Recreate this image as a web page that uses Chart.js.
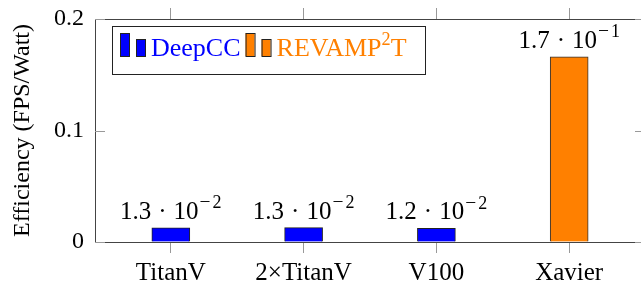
<!DOCTYPE html>
<html>
<head>
<meta charset="utf-8">
<script src="https://cdn.jsdelivr.net/npm/chart.js@4.4.1/dist/chart.umd.min.js"></script>
<style>
  html, body { margin: 0; padding: 0; background: #fff; overflow: hidden; }
  #wrap { position: relative; width: 646px; height: 283px; }
</style>
</head>
<body>
<div id="wrap"><canvas id="c"></canvas></div>
<script>
const categories = ['TitanV', '2×TitanV', 'V100', 'Xavier'];
const deepccValues = [0.0126, 0.0129, 0.0122, null];
const revampValues = [null, null, null, 0.166];
const seriesLabels = ['DeepCC', 'REVAMP^2T'];
const seriesColors = ['#0000ff', '#ff8000'];
const yTickValues = [0, 0.1, 0.2];
const yTitle = 'Efficiency (FPS/Watt)';

const FONT = '"Liberation Serif", "Times New Roman", serif';
const FS = 24;

function toPoints(vals) {
  const out = [];
  vals.forEach((v, i) => { if (v !== null) out.push({ x: i, y: v }); });
  return out;
}

// draw text pieces; sup pieces are smaller and raised
function drawRich(ctx, parts, x, y, size, color) {
  ctx.fillStyle = color;
  ctx.textBaseline = 'alphabetic';
  ctx.textAlign = 'left';
  let cx = x;
  parts.forEach(p => {
    const s = p.sup ? size * (p.scale || 0.7) : size;
    ctx.font = s + 'px ' + FONT;
    ctx.fillText(p.t, cx + (p.pre || 0), y - (p.sup ? size * 0.42 : 0));
    cx += (p.pre || 0) + ctx.measureText(p.t).width + (p.post || 0);
  });
  return cx - x;
}
function measureRich(ctx, parts, size) {
  let w = 0;
  parts.forEach(p => {
    const s = p.sup ? size * (p.scale || 0.7) : size;
    ctx.font = s + 'px ' + FONT;
    w += (p.pre || 0) + ctx.measureText(p.t).width + (p.post || 0);
  });
  return w;
}
function parseLabel(str) {
  const parts = [];
  const re = /\^(\S)/g;
  let last = 0, m;
  while ((m = re.exec(str)) !== null) {
    if (m.index > last) parts.push({ t: str.slice(last, m.index) });
    parts.push({ t: m[1], sup: true });
    last = re.lastIndex;
  }
  if (last < str.length) parts.push({ t: str.slice(last) });
  return parts;
}
function sciParts(v) {
  const e = Math.floor(Math.log10(v));
  const m = (v / Math.pow(10, e)).toFixed(1);
  return [
    { t: m },
    { t: '·', pre: 7, post: 7 },
    { t: '10' },
    { t: '\u2212', sup: true, scale: 0.78, pre: 1, post: 2 },
    { t: String(-e), sup: true, scale: 0.72 }
  ];
}

const overlay = {
  id: 'overlay',
  afterDatasetsDraw(chart) {
    const ctx = chart.ctx;
    const a = chart.chartArea;
    const ys = chart.scales.y;
    ctx.save();
    // frame
    ctx.strokeStyle = '#444';
    ctx.lineWidth = 1;
    ctx.strokeRect(Math.round(a.left) + 0.5, Math.round(a.top) + 0.5,
      Math.round(a.right - a.left) - 1, Math.round(a.bottom - a.top));
    // inward y ticks
    ctx.strokeStyle = '#999';
    yTickValues.forEach(v => {
      const py = Math.round(ys.getPixelForValue(v)) + 0.5;
      ctx.beginPath();
      ctx.moveTo(a.left, py); ctx.lineTo(a.left + 10, py);
      ctx.moveTo(a.right, py); ctx.lineTo(a.right - 10, py);
      ctx.stroke();
    });
    // data labels
    chart.data.datasets.forEach((ds, di) => {
      const meta = chart.getDatasetMeta(di);
      meta.data.forEach((el, i) => {
        const v = ds.data[i].y;
        const parts = sciParts(v);
        const w = measureRich(ctx, parts, 25);
        drawRich(ctx, parts, el.x - w / 2, el.y - 9, 25, '#000');
      });
    });
    // legend
    const bx = a.left + 17, by = a.top + 7;
    ctx.fillStyle = '#fff';
    ctx.fillRect(bx, by, 313, 48);
    ctx.strokeStyle = '#222';
    ctx.strokeRect(bx + 0.5, by + 0.5, 313, 48);
    let x = bx + 8;
    const base = by + 30;
    seriesLabels.forEach((lab, k) => {
      ctx.fillStyle = seriesColors[k];
      ctx.strokeStyle = '#222';
      ctx.fillRect(x, by + 7, 9, 23);
      ctx.strokeRect(x + 0.5, by + 7.5, 9, 23);
      ctx.fillRect(x + 16, by + 13, 9, 17);
      ctx.strokeRect(x + 16.5, by + 13.5, 9, 17);
      x += 31;
      const w = drawRich(ctx, parseLabel(lab), x, base, 26, seriesColors[k]);
      x += w + 5;
    });
    ctx.restore();
  }
};

const xCommon = {
  type: 'linear',
  min: -0.571,
  max: 3.571,
  offset: false,
  afterBuildTicks: s => { s.ticks = categories.map((c, i) => ({ value: i })); },
  grid: { offset: false, drawOnChartArea: false, drawTicks: true, tickLength: 11, color: '#999', lineWidth: 1 },
  border: { display: false }
};

new Chart(document.getElementById('c'), {
  type: 'bar',
  data: {
    datasets: [
      { label: seriesLabels[0], data: toPoints(deepccValues), backgroundColor: seriesColors[0],
        borderColor: '#222', borderWidth: 1, barThickness: 38, grouped: false, xAxisID: 'x', yAxisID: 'y' },
      { label: seriesLabels[1], data: toPoints(revampValues), backgroundColor: seriesColors[1],
        borderColor: '#333', borderWidth: 1, barThickness: 38, grouped: false, xAxisID: 'x', yAxisID: 'y' }
    ]
  },
  options: {
    responsive: true,
    maintainAspectRatio: false,
    animation: false,
    layout: { padding: { right: 1, left: 0, top: 0, bottom: 0 } },
    plugins: { legend: { display: false }, tooltip: { enabled: false } },
    scales: {
      x: Object.assign({}, xCommon, {
        position: 'bottom',
        ticks: { autoSkip: false, maxRotation: 0, padding: 5, color: '#000',
          font: { family: FONT, size: 25 },
          callback: (v, i) => categories[i] },
        afterFit: s => { s.height = 41; s.paddingLeft = 0; s.paddingRight = 0; }
      }),
      x2: Object.assign({}, xCommon, {
        position: 'top',
        ticks: { display: false },
        afterFit: s => { s.height = 19; s.paddingLeft = 0; s.paddingRight = 0; }
      }),
      y: {
        min: 0, max: 0.2,
        afterBuildTicks: s => { s.ticks = yTickValues.map(v => ({ value: v })); },
        ticks: { padding: 11, color: '#000', font: { family: FONT, size: FS },
          callback: v => (v === 0 ? '0' : v.toFixed(1)) },
        grid: { drawOnChartArea: false, drawTicks: false },
        border: { display: false },
        title: { display: true, text: yTitle, color: '#000',
          font: { family: FONT, size: FS }, padding: { top: 8, bottom: 0 } },
        afterFit: s => { s.width = 95; s.paddingTop = 0; s.paddingBottom = 0; }
      }
    }
  },
  plugins: [overlay]
});
</script>
</body>
</html>
